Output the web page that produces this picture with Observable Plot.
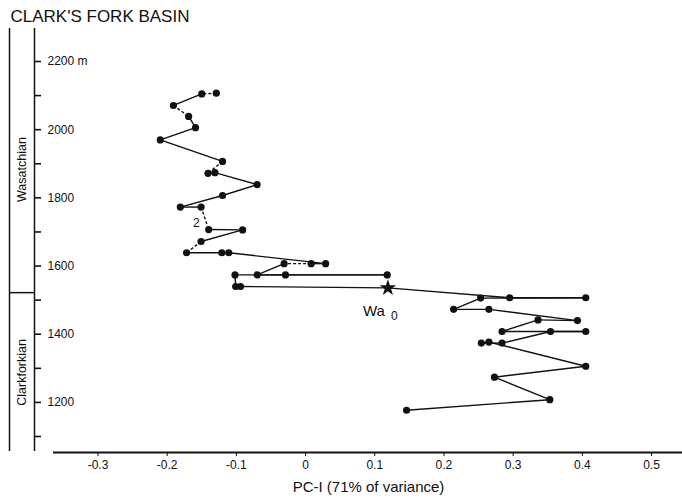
<!DOCTYPE html>
<html>
<head>
<meta charset="utf-8">
<script src="https://cdn.jsdelivr.net/npm/d3@7"></script>
<script src="https://cdn.jsdelivr.net/npm/@observablehq/plot@0.6"></script>
<style>
  html, body { margin: 0; padding: 0; background: #fff; }
</style>
</head>
<body>
<div id="chart"></div>
<script>
// ---- data ----
// PC-I score of each sample, in the order the connecting line visits them (top of section to bottom)
const pcValues = [
  -0.129, -0.150, -0.191, -0.169, -0.159, -0.210, -0.120, -0.141, -0.131, -0.070,
  -0.120, -0.181, -0.151, -0.140, -0.091, -0.151, -0.172, -0.121, -0.111, 0.029,
   0.008, -0.031, -0.070, -0.029, 0.118, -0.102, -0.101, -0.094, 0.119, 0.295,
   0.405, 0.253, 0.214, 0.265, 0.393, 0.336, 0.284, 0.405, 0.354, 0.284,
   0.254, 0.265, 0.405, 0.273, 0.353, 0.146
];
// stratigraphic level of each sample (m)
const levels = [
  2107, 2105, 2071, 2039, 2006, 1970, 1907, 1872, 1874, 1839,
  1807, 1773, 1773, 1707, 1706, 1672, 1639, 1639, 1639, 1607,
  1607, 1607, 1574, 1574, 1574, 1574, 1540, 1540, 1536, 1507,
  1507, 1506, 1473, 1473, 1440, 1442, 1408, 1408, 1408, 1374,
  1374, 1377, 1306, 1274, 1208, 1177
];
// marker of each sample
const markers = levels.map((_, i) => i === 28 ? "star" : "dot");
// segments (index of first sample) drawn dashed
const dashedSegments = [0, 2, 6, 12, 15, 20];

const xTicks = [-0.3, -0.2, -0.1, 0, 0.1, 0.2, 0.3, 0.4, 0.5];
const xTickLabels = ["-0.3", "-0.2", "-0.1", "0", "0.1", "0.2", "0.3", "0.4", "0.5"];
const yTicks = [1100, 1200, 1300, 1400, 1500, 1600, 1700, 1800, 1900, 2000, 2100, 2200];
const yLabelValues = [2200, 2000, 1800, 1600, 1400, 1200];
const yTickLabels = ["2200 m", "2000", "1800", "1600", "1400", "1200"];

const stageNames = ["Wasatchian", "Clarkforkian"];
const stageCenters = [1883, 1288];
const stageBoundary = 1522;

const title = "CLARK'S FORK BASIN";
const xTitle = "PC-I (71% of variance)";
const starLabel = "Wa";
const starSub = "0";
const countNote = {pc: -0.158, m: 1726, text: "2"};

// ---- layout ----
const W = 682, H = 501;
const xDomain = [-0.3, 0.5], xRange = [97.5, 651];
const yDomain = [1100, 2200], yRange = [436, 61];
const xs = d3.scaleLinear(xDomain, xRange);
const ys = d3.scaleLinear(yDomain, yRange);
const bandLeft = xs.invert(9), axisPos = xs.invert(34), tickEnd = xs.invert(41), labelPos = xs.invert(47);
const bandMid = xs.invert(21.5);
const yTop = ys.invert(28), yBottom = ys.invert(451);
const xAxisLevel = ys.invert(452);

const samples = pcValues.map((pc, i) => ({pc, m: levels[i], marker: markers[i]}));
const segments = d3.pairs(samples).map(([a, b], i) => ({a, b, dashed: dashedSegments.includes(i)}));

const ink = "#111";
const font = "'Liberation Sans', Arial, Helvetica, sans-serif";

const chart = Plot.plot({
  width: W, height: H,
  marginTop: 0, marginLeft: 0, marginRight: 0, marginBottom: H - 452,
  x: {domain: xDomain, range: xRange, axis: null},
  y: {domain: yDomain, range: yRange, axis: null},
  style: {fontFamily: font, color: ink, background: "#fff", overflow: "visible"},
  marks: [
    // left stage band and y axis
    Plot.ruleX([bandLeft, axisPos], {y1: yBottom, y2: yTop, stroke: ink, strokeWidth: 1.5}),
    Plot.ruleY([stageBoundary], {x1: bandLeft, x2: axisPos, stroke: ink, strokeWidth: 1.5}),
    Plot.ruleY(yTicks, {x1: axisPos, x2: tickEnd, stroke: ink, strokeWidth: 1.6}),
    Plot.text(yLabelValues, {x: labelPos, y: d => d, text: (d, i) => yTickLabels[i], textAnchor: "start", fontSize: 12, fill: ink}),
    Plot.text(stageNames, {x: bandMid, y: (d, i) => stageCenters[i], text: d => d, rotate: -90, fontSize: 12.5, fill: ink}),
    // x axis
    Plot.ruleY([xAxisLevel], {x1: xs.invert(53), x2: xs.invert(682), stroke: ink, strokeWidth: 1.8}),
    Plot.axisX(xTicks, {tickSize: 4, tickPadding: 4, label: null, tickFormat: d => xTickLabels[xTicks.indexOf(d)], fontSize: 12, stroke: ink, fill: ink}),
    Plot.text([xTitle], {frameAnchor: "bottom", dx: 368 - W / 2, dy: 39, fontSize: 15, fill: ink}),
    // title
    Plot.text([title], {frameAnchor: "top-left", dx: 10, dy: 9, textAnchor: "start", lineAnchor: "top", fontSize: 17, fill: ink}),
    // profile line
    Plot.link(segments.filter(s => !s.dashed), {x1: s => s.a.pc, y1: s => s.a.m, x2: s => s.b.pc, y2: s => s.b.m, stroke: ink, strokeWidth: 1.4}),
    Plot.link(segments.filter(s => s.dashed), {x1: s => s.a.pc, y1: s => s.a.m, x2: s => s.b.pc, y2: s => s.b.m, stroke: ink, strokeWidth: 1.4, strokeDasharray: "3,2"}),
    // samples
    Plot.dot(samples.filter(d => d.marker === "dot"), {x: "pc", y: "m", r: 3.6, fill: ink}),
    Plot.dot(samples.filter(d => d.marker === "star"), {x: "pc", y: "m", r: 5.2, symbol: "star", fill: ink}),
    // annotations
    Plot.text([countNote], {x: "pc", y: "m", text: "text", fontSize: 12, fill: ink}),
    Plot.text(samples.filter(d => d.marker === "star"), {x: "pc", y: "m", text: () => starLabel, textAnchor: "start", dx: -25, dy: 23, fontSize: 15, fill: ink}),
    Plot.text(samples.filter(d => d.marker === "star"), {x: "pc", y: "m", text: () => starSub, textAnchor: "start", dx: 3, dy: 28, fontSize: 12, fill: ink})
  ]
});
document.getElementById("chart").appendChild(chart);
</script>
</body>
</html>
